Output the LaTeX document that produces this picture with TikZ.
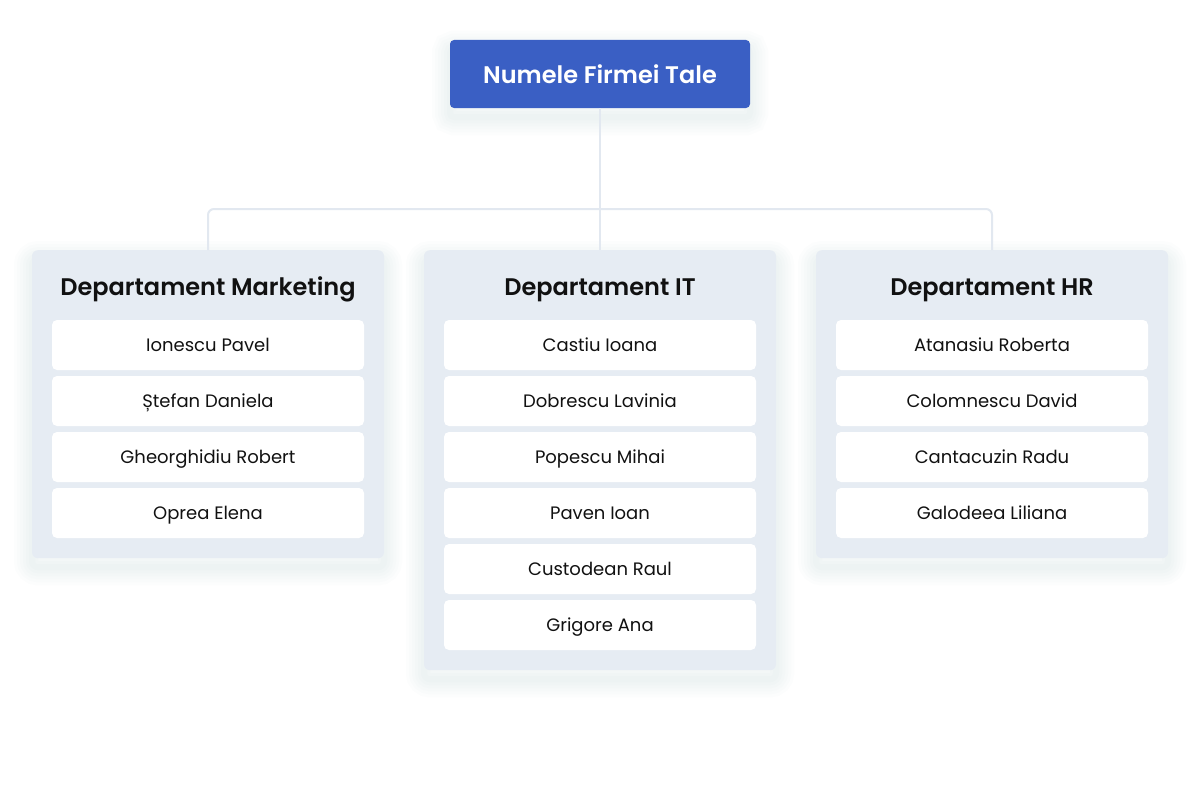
\documentclass[tikz,border=0pt]{standalone}
\usepackage{fontspec}
\setmainfont{Poppins}
\newfontfamily\semib{Poppins SemiBold}
\definecolor{topblue}{HTML}{3A5FC4}
\definecolor{deptbg}{HTML}{E6ECF3}
\definecolor{connc}{HTML}{E2E8F0}
\definecolor{txt}{HTML}{111111}
\definecolor{shadc}{HTML}{7080A8}
\tikzset{
  sh/.style={preaction={draw=shadc, line width=#1, draw opacity=0.016, transform canvas={yshift=-9pt}}},
  softshadow/.style={sh=36pt, sh=30pt, sh=24pt, sh=18pt, sh=12pt, sh=6pt},
  topbox/.style={fill=topblue, rounded corners=4pt, minimum width=300pt, minimum height=68pt,
    text=white, font=\semib\fontsize{24}{28}\selectfont, inner sep=0pt,
    text height=20pt, text depth=0pt, softshadow},
  deptbox/.style={fill=deptbg, rounded corners=6pt, minimum width=352pt, inner sep=0pt, anchor=north, softshadow},
  depttitle/.style={font=\semib\fontsize{24}{28}\selectfont, text=txt, inner sep=0pt, anchor=base},
  person/.style={fill=white, rounded corners=5pt, minimum width=312pt, minimum height=50pt,
    inner sep=0pt, font=\fontsize{18}{20}\selectfont, text=txt, text height=12pt, text depth=0pt},
  conn/.style={draw=connc, line width=2pt, rounded corners=6pt}
}
\begin{document}
\begin{tikzpicture}[x=1pt,y=-1pt]
\useasboundingbox[fill=white] (0,0) rectangle (1200,800);
% departments
\node[deptbox, minimum height=308pt] (mk) at (208,250) {};
\node[deptbox, minimum height=420pt] (it) at (600,250) {};
\node[deptbox, minimum height=308pt] (hr) at (992,250) {};
% top
\node[topbox] (top) at (600,74) {Numele Firmei Tale};
% connectors
\coordinate (bar) at (600,209);
\draw[conn] (top.south) -- (it.north);
\draw[conn] (mk.north) |- (bar) -| (hr.north);
% titles
\node[depttitle] (mkt) at (208,295) {Departament Marketing};
\node[depttitle] (itt) at (600,295) {Departament IT};
\node[depttitle] (hrt) at (992,295) {Departament HR};
% members
\foreach \n/\t [count=\k] in {m1/Ionescu Pavel, m2/Ștefan Daniela, m3/Gheorghidiu Robert, m4/Oprea Elena}{
  \node[person] (\n) at (208,289+56*\k) {\t};
}
\foreach \n/\t [count=\k] in {i1/Castiu Ioana, i2/Dobrescu Lavinia, i3/Popescu Mihai, i4/Paven Ioan, i5/Custodean Raul, i6/Grigore Ana}{
  \node[person] (\n) at (600,289+56*\k) {\t};
}
\foreach \n/\t [count=\k] in {h1/Atanasiu Roberta, h2/Colomnescu David, h3/Cantacuzin Radu, h4/Galodeea Liliana}{
  \node[person] (\n) at (992,289+56*\k) {\t};
}
\end{tikzpicture}
\end{document}
